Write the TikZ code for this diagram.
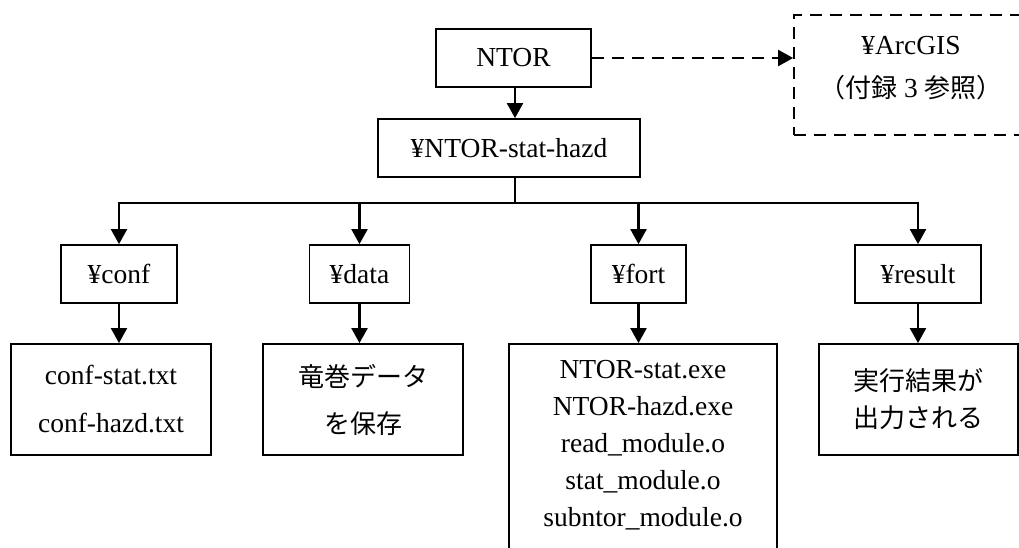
\documentclass[tikz,border=0pt]{standalone}
\usepackage{fontspec}
\setmainfont{Liberation Serif}
\newfontfamily\jp{Noto Sans CJK JP}
\usetikzlibrary{arrows.meta}
\begin{document}
\begin{tikzpicture}[x=1pt,y=-1pt,
  box/.style={draw, line width=1.8pt, inner sep=0pt, align=center, font=\fontsize{27.5}{33}\selectfont},
  txt/.style={inner sep=0pt, align=center},
  arr/.style={line width=2.2pt, -{Triangle[length=15pt,width=16pt]}},
  conn/.style={line width=2.2pt},
  dbox/.style={draw, dash pattern=on 12pt off 8pt, line width=1.8pt, inner sep=0pt}]
\useasboundingbox (0,0) rectangle (1019,547);
\clip (0,0) rectangle (1019,547);
% top
\node[box, minimum width=155pt, minimum height=58pt] (ntor) at (513.5,58) {NTOR};
\node[box, minimum width=262pt, minimum height=58pt] (hazd) at (509,148) {¥NTOR-stat-hazd};
\node[dbox, minimum width=234pt, minimum height=120pt] (arcgis) at (911,75) {};
\node[txt, font=\fontsize{27.5}{43}\selectfont] (arcgistext) at (911,68) {¥ArcGIS\\{\jp\fontsize{26}{43}\selectfont （付録}~3~{\jp\fontsize{26}{43}\selectfont 参照）}};
% level 2
\node[box, minimum width=116pt, minimum height=58pt] (conf) at (119,274) {¥conf};
\node[box, minimum width=100pt, minimum height=58pt] (data) at (359.5,274) {¥data};
\node[box, minimum width=95pt, minimum height=58pt] (fort) at (638.5,274) {¥fort};
\node[box, minimum width=126pt, minimum height=58pt] (result) at (918,274) {¥result};
% level 3
\node[box, minimum width=200pt, minimum height=111pt, font=\fontsize{27.5}{48}\selectfont] (conffiles) at (111,399.5) {conf-stat.txt\\conf-hazd.txt};
\node[box, minimum width=200pt, minimum height=111pt, font=\jp\fontsize{26}{47}\selectfont] (datanote) at (363,399.5) {竜巻データ\\を保存};
\node[box, minimum width=268pt, minimum height=216pt] (fortfiles) at (643,452) {};
\node[txt, font=\fontsize{27.5}{37}\selectfont] (forttext) at (643,445) {NTOR-stat.exe\\NTOR-hazd.exe\\read\_module.o\\stat\_module.o\\subntor\_module.o};
\node[box, minimum width=199pt, minimum height=111pt, font=\jp\fontsize{26}{37}\selectfont] (resultnote) at (918.5,399.5) {実行結果が\\出力される};
% connectors
\draw[arr] (ntor.south -| 515,0) -- (hazd.north -| 515,0);
\draw[arr, dash pattern=on 12pt off 8pt] (ntor.east) -- (ntor.east -| arcgis.west);
\coordinate (bus) at (515,203);
\draw[conn] (hazd.south -| bus) -- (bus);
\draw[arr] (bus) -| (conf.north);
\draw[arr] (bus) -| (data.north);
\draw[arr] (bus) -| (fort.north);
\draw[arr] (bus) -| (result.north);
\draw[arr] (conf.south) -- (conf.south |- conffiles.north);
\draw[arr] (data.south) -- (data.south |- datanote.north);
\draw[arr] (fort.south) -- (fort.south |- fortfiles.north);
\draw[arr] (result.south) -- (result.south |- resultnote.north);
\end{tikzpicture}
\end{document}
